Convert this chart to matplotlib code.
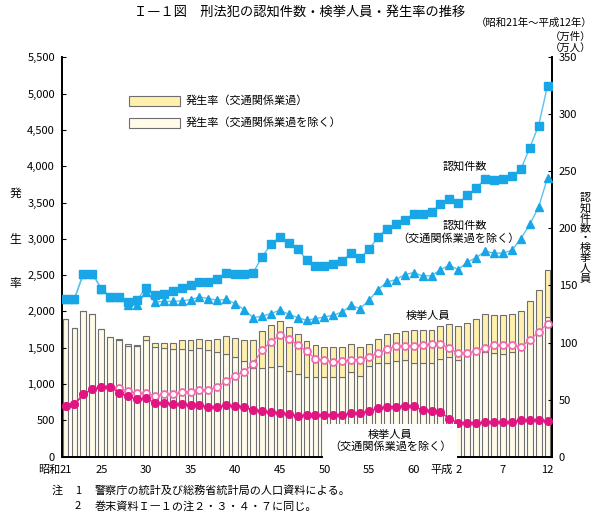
import matplotlib
matplotlib.use('Agg')
import matplotlib.pyplot as plt
from matplotlib.patches import Rectangle

plt.rcParams['font.family'] = ['Noto Sans CJK JP', 'DejaVu Sans']

# 昭和21年(1946) ～ 平成12年(2000)
years = list(range(1946, 2001))

# 発生率 (total, per 100k) and 発生率 excluding traffic negligence
rate_total = [1901, 1778, 2006, 1961, 1764, 1654, 1626, 1548, 1544, 1658,
              1571, 1571, 1571, 1603, 1603, 1626, 1603, 1626, 1658, 1640,
              1613, 1603, 1727, 1810, 1869, 1786, 1695, 1590, 1540, 1503,
              1503, 1503, 1548, 1503, 1548, 1626, 1686, 1704, 1731, 1750,
              1750, 1740, 1796, 1833, 1796, 1841, 1901, 1961, 1947, 1947,
              1961, 2006, 2144, 2300, 2566]
rate_excl = [1901, 1778, 2006, 1961, 1760, 1645, 1612, 1521, 1517, 1613,
             1503, 1497, 1489, 1489, 1475, 1497, 1466, 1434, 1420, 1374,
             1315, 1214, 1218, 1236, 1246, 1181, 1136, 1099, 1099, 1099,
             1099, 1099, 1167, 1108, 1246, 1291, 1291, 1319, 1328, 1291,
             1291, 1291, 1342, 1374, 1328, 1397, 1411, 1442, 1429, 1420,
             1442, 1506, 1608, 1709, 1924]

# 認知件数 (万件)
cases_total = [138.5, 138.5, 160.4, 160.4, 147.3, 139.9, 139.9, 135.5, 137.0, 148.0,
               142.0, 142.9, 144.9, 148.0, 150.2, 153.0, 153.0, 156.0, 161.3, 160.4,
               159.7, 160.9, 174.9, 186.0, 192.4, 187.2, 182.3, 172.6, 167.2, 167.0,
               169.1, 171.4, 178.4, 174.0, 181.7, 192.4, 199.8, 204.1, 207.6, 212.3,
               212.3, 214.6, 221.3, 226.0, 222.2, 228.9, 235.3, 243.5, 242.6, 243.5,
               246.4, 251.7, 270.6, 290.2, 325.2]
cases_excl = [138.5, 138.5, 160.4, 160.4, 147.3, 139.9, 139.9, 132.6, 132.6, 144.3,
              135.5, 136.0, 136.0, 136.5, 137.6, 139.9, 138.5, 137.0, 137.9, 134.1,
              128.9, 121.9, 123.0, 125.4, 128.3, 124.8, 121.9, 119.5, 121.0, 122.4,
              123.9, 126.8, 132.6, 129.8, 137.0, 146.4, 153.0, 155.1, 159.5, 161.3,
              158.3, 158.6, 163.9, 167.7, 163.9, 170.5, 174.4, 179.9, 178.4, 178.4,
              180.8, 191.0, 203.5, 218.7, 244.4]

# 検挙人員 (万人)
arrests_total = [44.6, 45.7, 54.8, 58.9, 61.2, 61.2, 59.8, 57.4, 55.4, 55.4,
                 53.3, 54.8, 54.8, 56.3, 57.0, 58.5, 58.5, 61.0, 66.0, 71.0,
                 74.5, 81.0, 93.3, 100.5, 106.4, 103.5, 97.7, 92.5, 85.5, 84.3,
                 83.1, 83.5, 84.8, 85.1, 87.6, 90.4, 94.3, 96.6, 96.8, 97.2,
                 97.9, 98.7, 98.8, 94.8, 90.4, 90.4, 92.8, 95.6, 97.5, 97.5,
                 97.5, 96.2, 102.0, 109.3, 116.3]
arrests_excl = [44.6, 45.7, 54.8, 58.9, 61.2, 61.2, 55.9, 53.0, 50.1, 51.0,
                47.2, 47.2, 46.0, 45.7, 45.0, 45.0, 43.5, 43.5, 45.0, 44.5,
                43.7, 40.8, 39.9, 38.8, 38.4, 37.0, 35.8, 36.4, 36.6, 36.4,
                36.4, 36.4, 37.9, 37.9, 40.2, 42.3, 43.7, 43.7, 44.4, 44.0,
                40.8, 40.2, 39.3, 32.9, 29.7, 29.7, 29.1, 30.0, 30.5, 30.0,
                30.5, 32.0, 32.0, 32.0, 31.2]

tick_years = [1946, 1950, 1955, 1960, 1965, 1970, 1975, 1980, 1985, 1990, 1995, 2000]
tick_labels = ['21', '25', '30', '35', '40', '45', '50', '55', '60', '2', '7', '12']

CREAM = '#fffbe8'
YELLOW = '#fff1ad'
EDGE = '#6e6e6e'
BLUE = '#19a6e6'
BLUE_LINE = '#5cc2f0'
MAGENTA = '#e0157f'
PINK = '#f26aab'

fig = plt.figure(figsize=(6, 5.21), dpi=100)
ax = fig.add_axes([0.1033, 0.1236, 0.8167, 0.7664])
ax2 = ax.twinx()

yellow_part = [t - e for t, e in zip(rate_total, rate_excl)]
ax.bar(years, rate_excl, width=0.66, color=CREAM, edgecolor=EDGE, linewidth=0.8)
ax.bar(years, yellow_part, bottom=rate_excl, width=0.66, color=YELLOW,
       edgecolor=EDGE, linewidth=0.8)

ax2.plot(years, cases_total, color=BLUE_LINE, lw=1, marker='s', ms=5.5,
         mfc=BLUE, mec=BLUE, zorder=4)
ax2.plot(years, cases_excl, color=BLUE_LINE, lw=1, marker='^', ms=5.5,
         mfc=BLUE, mec=BLUE, zorder=3)
ax2.plot(years, arrests_total, color=PINK, lw=1, marker='o', ms=5,
         mfc='white', mec=PINK, mew=1.3, zorder=3)
ax2.plot(years, arrests_excl, color=MAGENTA, lw=1, marker='o', ms=5.5,
         mfc=MAGENTA, mec=MAGENTA, zorder=4)

ax.set_xlim(1945.6, 2000.5)
ax.set_ylim(0, 5500)
ax2.set_ylim(0, 350)
ax.set_yticks(range(0, 5501, 500))
ax.set_yticklabels([f'{v:,}' for v in range(0, 5501, 500)])
ax2.set_yticks(range(0, 351, 50))
ax.set_xticks(tick_years)
ax.set_xticklabels(tick_labels)

for a in (ax, ax2):
    a.spines['top'].set_visible(False)
    for s in ('left', 'right', 'bottom'):
        a.spines[s].set_linewidth(1.3)
    a.tick_params(axis='y', direction='in', length=3, labelsize=8, width=0.8)
ax.tick_params(axis='x', length=0, labelsize=8, pad=6)
ax.tick_params(axis='y', pad=5)
ax2.tick_params(axis='y', pad=5)

trans = ax.get_xaxis_transform()
ax.text(1945.4, -0.0205, '昭和', transform=trans, ha='right', va='top', fontsize=8)
ax.text(1989.4, -0.0205, '平成', transform=trans, ha='right', va='top', fontsize=8)

# texts around the plot
fig.text(0.5, 0.977, 'Ｉ―１図　刑法犯の認知件数・検挙人員・発生率の推移',
         ha='center', va='center', fontsize=9.5)
fig.text(0.988, 0.957, '（昭和21年～平成12年）', ha='right', va='center', fontsize=7.5)
fig.text(0.985, 0.93, '（万件）', ha='right', va='center', fontsize=7.5)
fig.text(0.985, 0.906, '（万人）', ha='right', va='center', fontsize=7.5)

for ch, yp in zip('発生率', [193, 240, 283]):
    fig.text(0.026, 1 - yp / 521, ch, ha='center', va='center', fontsize=8.5)
fig.text(0.975, 1 - 238 / 521, '\n'.join('認知件数・検挙人員'), ha='center',
         va='center', fontsize=8, linespacing=0.98)

# legend
for yp, col, lab in [(101, YELLOW, '発生率（交通関係業過）'),
                     (123, CREAM, '発生率（交通関係業過を除く）')]:
    fig.add_artist(Rectangle((129 / 600, 1 - (yp + 5) / 521), 51 / 600, 10 / 521,
                             transform=fig.transFigure, facecolor=col,
                             edgecolor=EDGE, linewidth=0.8))
    fig.text(186 / 600, 1 - yp / 521, lab, ha='left', va='center', fontsize=8)

# series labels
fig.text(465 / 600, 1 - 166 / 521, '認知件数', ha='center', va='center', fontsize=8)
fig.text(465 / 600, 1 - 225 / 521, '認知件数', ha='center', va='center', fontsize=8)
fig.text(458 / 600, 1 - 239 / 521, '（交通関係業過を除く）', ha='center',
         va='center', fontsize=8)
fig.text(428 / 600, 1 - 316 / 521, '検挙人員', ha='center', va='center', fontsize=8,
         zorder=10)
fig.text(390 / 600, 1 - 441 / 521, '検挙人員\n（交通関係業過を除く）', ha='center',
         va='center', fontsize=8, linespacing=1.2, zorder=10,
         bbox=dict(facecolor='white', edgecolor='none', pad=4))

# notes
fig.text(52 / 600, 1 - 491 / 521, '注', ha='left', va='center', fontsize=8)
fig.text(75 / 600, 1 - 491 / 521, '1', ha='left', va='center', fontsize=8)
fig.text(95 / 600, 1 - 491 / 521, '警察庁の統計及び総務省統計局の人口資料による。',
         ha='left', va='center', fontsize=8)
fig.text(75 / 600, 1 - 506 / 521, '2', ha='left', va='center', fontsize=8)
fig.text(95 / 600, 1 - 506 / 521, '巻末資料Ｉ―１の注２・３・４・７に同じ。',
         ha='left', va='center', fontsize=8)

fig.savefig('out.png', dpi=100)
